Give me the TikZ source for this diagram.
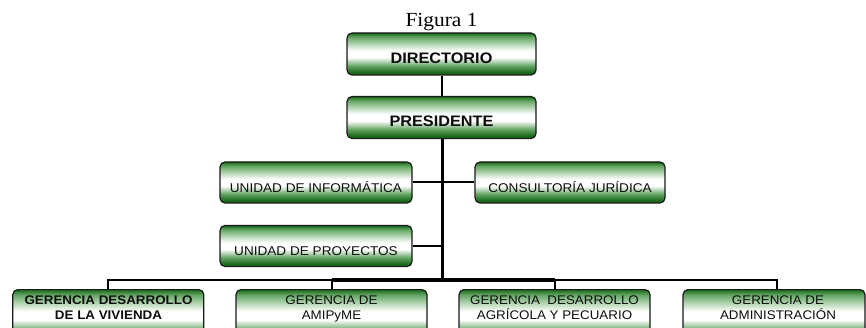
\documentclass[tikz,border=0pt]{standalone}
\usepackage{fontspec}
\setmainfont{Liberation Sans}[FakeStretch=1.07]
\newfontfamily\figfont{Liberation Serif}[FakeStretch=1.07]
\definecolor{gdark}{RGB}{25,105,25}
\definecolor{gmid}{RGB}{100,165,100}
\definecolor{glight}{RGB}{170,208,170}
\pgfdeclareverticalshading{boxshade}{100bp}{color(0bp)=(gdark); color(25bp)=(gdark); color(28bp)=(gdark); color(36bp)=(gmid); color(46bp)=(white); color(54bp)=(white); color(63bp)=(glight); color(70bp)=(gmid); color(75bp)=(gdark); color(100bp)=(gdark)}
\tikzset{
  box/.style={draw=black!90, line width=1.2pt, rounded corners=5pt, shading=boxshade,
    inner sep=0pt, text height=20pt, text depth=0pt, text=black!95},
  topbox/.style={box, minimum width=189pt, minimum height=42pt, text height=19pt,
    font=\fontsize{15.2}{18}\selectfont\bfseries},
  midbox/.style={box, minimum width=192pt, minimum height=41pt,
    font=\fontsize{12.7}{15}\selectfont},
  lowbox/.style={box, minimum height=52pt, anchor=north},
  lowtext/.style={align=center, anchor=north, inner sep=0pt, text=black!95,
    font=\fontsize{12.5}{15}\selectfont},
  lowbold/.style={lowtext, font=\fontsize{12.5}{15}\selectfont\bfseries},
  conn/.style={draw=black, line width=2pt},
  thickconn/.style={draw=black, line width=3.5pt}
}
\begin{document}
\begin{tikzpicture}[x=1pt, y=-1pt]
\useasboundingbox (0,0) rectangle (866,328);
\clip (0,0) rectangle (866,328);
\node[font=\figfont\fontsize{20}{24}\selectfont, anchor=base, inner sep=0pt] (fig) at (441.5,26.7) {Figura 1};

\node[topbox] (dir) at (441.5,54) {DIRECTORIO};
\node[topbox] (pres) at (441.5,117.5) {PRESIDENTE};
\node[midbox] (inf) at (316,182.5) {UNIDAD DE INFORMÁTICA};
\node[midbox, minimum width=190pt] (cons) at (570,182.5) {CONSULTORÍA JURÍDICA};
\node[midbox] (proy) at (316,246) {UNIDAD DE PROYECTOS};

\node[lowbox, minimum width=191pt] (b1) at (108.3,289) {};
\node[lowbox, minimum width=191pt] (b2) at (331.5,289) {};
\node[lowbox, minimum width=191pt] (b3) at (554.5,289) {};
\node[lowbox, minimum width=182pt] (b4) at (774,289) {};

\node[lowbold] (t1) at (108.5,295.4) {GERENCIA DESARROLLO\\DE LA VIVIENDA};
\node[lowtext] (t2) at (331.5,295.4) {GERENCIA DE\\AMIPyME};
\node[lowtext] (t3) at (554.5,295.4) {GERENCIA\ \ DESARROLLO\\AGRÍCOLA Y PECUARIO};
\node[lowtext] (t4) at (778,295.4) {GERENCIA DE\\ADMINISTRACIÓN};

\coordinate (bar) at (442.5,280);

\draw[conn] (dir.south) -- (pres.north);
\draw[conn] (inf.east) -- (cons.west);
\draw[conn] (proy.east) -- (proy.east -| bar);
\draw[conn] (b1.north) |- (bar);
\draw[conn] ([xshift=3pt]b4.north) |- (bar);
\draw[conn] (b2.north) -- (b2.north |- bar);
\draw[conn] (b3.north) -- (b3.north |- bar);
\draw[thickconn] (b2.north |- bar) -- (b3.north |- bar);
\draw[thickconn] (pres.south -| bar) -- (bar);
\end{tikzpicture}
\end{document}
